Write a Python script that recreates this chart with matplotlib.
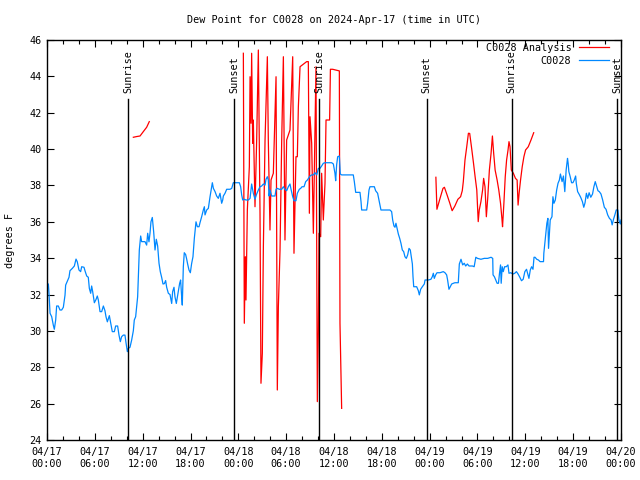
import numpy as np
import matplotlib
matplotlib.use("Agg")
import matplotlib.pyplot as plt
from matplotlib.ticker import MultipleLocator

plt.rcParams['font.family'] = ['DejaVu Sans Mono']
FS = 7.3

# hours since 2024-04-17 00:00 UTC
obs_t = [0.05, 0.17, 0.25, 0.38, 0.59, 0.79, 0.92, 1.09, 1.21, 1.42, 1.63, 1.84, 2.05, 2.26, 2.34, 2.55, 2.76, 2.88,
         3.18, 3.43, 3.64, 3.80, 4.01, 4.22, 4.35, 4.64, 4.77, 4.98, 5.18, 5.31, 5.48, 5.60, 5.73, 5.94, 6.15, 6.31,
         6.44, 6.65, 6.86, 7.07, 7.27, 7.40, 7.57, 7.82, 7.99, 8.19, 8.45, 8.61, 8.86, 9.03, 9.20, 9.36, 9.57, 9.78,
         9.91, 10.08, 10.20, 10.41, 10.62, 10.83, 10.95, 11.12, 11.25, 11.37, 11.46, 11.58, 11.75, 11.87, 12.08, 12.29,
         12.50, 12.63, 12.79, 12.92, 13.04, 13.21, 13.38, 13.55, 13.71, 13.88, 14.05, 14.21, 14.38, 14.55, 14.72, 14.88,
         15.01, 15.22, 15.43, 15.64, 15.76, 15.93, 16.05, 16.22, 16.35, 16.47, 16.64, 16.76, 16.89, 16.97, 17.10, 17.22,
         17.39, 17.52, 17.64, 17.81, 17.98, 18.14, 18.31, 18.48, 18.69, 18.86, 19.07, 19.19, 19.40, 19.61, 19.74, 19.82,
         20.03, 20.24, 20.45, 20.66, 20.74, 20.87, 21.08, 21.28, 21.49, 21.70, 21.91, 22.04, 22.12, 22.33, 22.54, 22.75,
         22.96, 23.17, 23.37, 23.58, 23.79, 24.13, 24.29, 24.42, 24.55, 24.75, 24.96, 25.26, 25.47, 25.67, 25.88, 26.09,
         26.30, 26.51, 26.72, 26.93, 27.14, 27.35, 27.47, 27.64, 27.76, 27.85, 27.97, 28.18, 28.39, 28.60, 28.73, 28.89,
         29.14, 29.44, 29.65, 29.85, 30.06, 30.27, 30.48, 30.61, 30.82, 30.98, 31.23, 31.40, 31.65, 31.82, 31.99, 32.24,
         32.45, 32.66, 32.99, 33.20, 33.41, 33.62, 33.83, 34.04, 34.24, 34.45, 34.66, 34.87, 35.29, 35.71, 35.92, 36.12,
         36.21, 36.33, 36.46, 36.67, 36.79, 36.96, 37.38, 37.80, 38.42, 38.55, 38.72, 39.26, 39.39, 39.47, 40.10, 40.22,
         40.39, 40.51, 41.06, 41.22, 41.47, 41.68, 41.89, 42.40, 43.02, 43.23, 43.36, 43.52, 43.65, 43.77, 43.94, 44.07,
         44.24, 44.40, 44.57, 44.74, 44.90, 45.07, 45.24, 45.41, 45.57, 45.66, 45.83, 45.91, 46.00, 46.37, 46.58, 46.70,
         46.87, 47.08, 47.33, 47.42, 47.83, 48.16, 48.33, 48.46, 48.58, 48.75, 48.92, 49.29, 49.71, 49.92, 50.13, 50.25,
         50.42, 50.59, 50.76, 50.97, 51.17, 51.59, 51.72, 51.93, 52.14, 52.34, 52.52, 52.73, 52.94, 53.37, 53.58, 53.79,
         54.00, 54.43, 54.85, 55.28, 55.70, 55.91, 55.95, 56.12, 56.29, 56.46, 56.63, 56.76, 56.89, 56.97, 57.10, 57.23,
         57.40, 57.61, 57.82, 57.95, 58.16, 58.46, 58.67, 58.88, 59.09, 59.31, 59.52, 59.73, 59.94, 60.15, 60.28, 60.45,
         60.62, 60.79, 60.96, 61.09, 61.22, 61.43, 61.64, 61.85, 62.06, 62.28, 62.32, 62.40, 62.57, 62.70, 62.83, 62.91,
         63.00, 63.12, 63.34, 63.46, 63.59, 63.76, 63.93, 64.10, 64.27, 64.40, 64.61, 64.78, 64.95, 65.12, 65.29, 65.37,
         65.46, 65.63, 65.80, 65.97, 66.14, 66.31, 66.39, 66.56, 66.73, 66.94, 67.16, 67.33, 67.49, 67.66, 67.83, 68.00,
         68.21, 68.43, 68.60, 68.77, 68.94, 69.11, 69.28, 69.49, 69.70, 69.91, 70.12, 70.33, 70.55, 70.76, 70.89, 71.06,
         71.23, 71.40, 71.61, 71.74, 71.91, 72.0]
obs_v = [32.6, 32.58, 32.07, 30.97, 30.78, 30.32, 30.09, 30.6, 31.37, 31.37, 31.15, 31.15, 31.3, 31.97, 32.52, 32.74, 32.95, 33.31,
         33.44, 33.57, 33.95, 33.8, 33.35, 33.26, 33.53, 33.5, 33.3, 33.02, 32.95, 32.34, 32.07, 32.47, 32.16, 31.55, 31.73, 31.92,
         31.7, 31.06, 31.06, 31.37, 31.11, 30.78, 30.5, 30.84, 30.45, 29.96, 29.96, 30.27, 30.27, 29.77, 29.41, 29.68, 29.77, 29.77,
         29.35, 28.86, 29.04, 29.1, 29.5, 30.01, 30.6, 30.78, 31.33, 31.88, 32.95, 34.45, 35.22, 34.91, 34.91, 34.91,
         34.72, 35.37, 34.9, 35.37, 36.0, 36.24, 35.45, 34.45, 35.04, 34.67, 33.72, 33.26, 32.95, 32.58, 32.6, 32.77,
         32.4, 32.07, 32.0, 31.51, 32.16, 32.4, 31.88, 31.51, 31.86, 32.16, 32.62, 32.8, 31.88, 31.42, 33.53, 34.3,
         34.2, 33.95, 33.68, 33.35, 33.2, 33.7, 34.08, 35.09, 36.0, 35.73, 35.73, 35.95, 36.28, 36.65, 36.83, 36.38,
         36.65, 36.74, 37.38, 37.93, 38.15, 37.84, 37.66, 37.42, 37.29, 37.57, 37.02, 37.2, 37.42, 37.57, 37.79, 37.79,
         37.79, 37.84, 38.15, 38.15, 38.15, 38.15, 37.93, 37.48, 37.2, 37.24, 37.2, 37.2, 37.29, 38.08, 37.57, 37.24,
         37.53, 37.75, 37.93, 37.97, 38.08, 38.02, 38.34, 38.48, 38.3, 37.42, 37.75, 37.42, 37.42, 37.42, 37.79, 37.84,
         37.79, 37.79, 37.93, 37.79, 37.71, 37.93, 38.08, 37.79, 37.38, 37.16, 37.16, 37.57, 37.79, 37.84, 37.93, 37.93,
         38.21, 38.3, 38.52, 38.58, 38.58, 38.7, 38.58, 38.94, 38.94, 39.07, 39.22, 39.25, 39.25, 39.25, 39.18, 38.67,
         38.26, 39.13, 39.58, 39.62, 38.63, 38.58, 38.58, 38.58, 38.58, 38.21, 37.62, 37.62, 37.11, 36.65, 36.65, 37.02,
         37.75, 37.93, 37.93, 37.71, 37.57, 37.11, 36.65, 36.65, 36.65, 36.56, 36.1, 35.77, 35.7, 35.92, 35.59, 35.33,
         35.09, 34.82, 34.45, 34.36, 34.08, 33.99, 34.18, 34.54, 34.45, 34.18, 33.68, 32.98, 32.43, 32.43, 32.21, 31.98,
         32.29, 32.43, 32.58, 32.8, 32.8, 32.84, 32.98, 33.17, 32.89, 33.08, 33.2, 33.2, 33.26, 33.2, 33.08, 32.8,
         32.29, 32.43, 32.58, 32.62, 32.65, 32.65, 33.68, 33.94, 33.63, 33.72, 33.57, 33.68, 33.57, 33.57, 33.53, 34.05,
         33.99, 33.94, 33.99, 33.99, 34.05, 33.99, 33.08, 32.98, 32.8, 32.62, 32.62, 33.17, 33.63, 32.62, 33.53, 33.26,
         33.53, 33.53, 33.63, 33.17, 33.2, 33.13, 33.17, 33.26, 33.13, 32.95, 32.76, 32.84, 33.26, 33.39, 33.17, 32.89,
         33.35, 33.53, 33.39, 34.05, 34.05, 33.94, 33.9, 33.81, 33.81, 33.81, 34.27, 34.63, 35.37, 35.92, 36.19, 34.54,
         35.18, 36.1, 36.28, 37.38, 37.02, 37.2, 37.75, 38.12, 38.3, 38.63, 38.21, 38.52, 37.66, 38.85, 39.49, 39.22,
         38.76, 38.48, 38.15, 38.15, 38.3, 38.52, 38.12, 37.66, 37.53, 37.35, 37.11, 36.8, 37.05, 37.57, 37.29, 37.6,
         37.35, 37.53, 37.93, 38.21, 37.97, 37.71, 37.66, 37.53, 37.2, 36.8, 36.69, 36.38, 36.19, 36.1, 35.83, 36.14,
         36.38, 36.65, 36.65, 36.1, 35.88, 36.1]

ana_t = [10.83, 11.25, 11.67, 12.08, 12.50, 12.83, np.nan,
         24.63, 24.75, 24.88, 24.96, 25.13, 25.38, 25.47, 25.59, 25.67, 25.80, 25.88, 26.09, 26.30, 26.51, 26.72, 26.84,
         27.01, 27.14, 27.35, 27.64, 27.76, 27.97, 28.10, 28.39, 28.73, 28.89, 29.02, 29.23, 29.44, 29.65, 29.85, 30.06,
         30.48, 30.82, 30.98, 31.23, 31.40, 31.53, 31.74, 32.57, 32.78, 32.91, 32.99, 33.20, 33.41, 33.74, 33.91, 34.04,
         34.12, 34.33, 34.45, 34.66, 34.87, 35.00, 35.45, 35.55, 35.83, 36.67, 36.75, 36.96, np.nan,
         48.78, 48.91, 49.34, 49.67, 49.85, 50.19, 50.53, 50.82, 51.16, 51.54, 51.88, 52.09, 52.22, 52.43, 52.65, 52.86,
         53.02, 53.24, 53.50, 53.70, 53.91, 54.09, 54.22, 54.43, 54.64, 54.77, 54.94, 55.11, 55.28, 55.49, 55.70, 55.87,
         56.03, 56.21, 56.46, 56.67, 56.89, 57.06, 57.14, 57.31, 57.48, 57.65, 57.83, 57.95, 58.08, 58.24, 58.50, 58.76,
         58.97, 59.09, 59.22, 59.40, 59.61, 59.82, 60.03, 60.37, 60.71, 61.05]
ana_v = [40.65, 40.69, 40.72, 40.96, 41.2, 41.51, np.nan,
         45.27, 30.42, 34.08, 31.7, 36.65, 39.03, 43.98, 41.42, 45.27, 40.32, 41.6, 36.83, 40.5, 45.45, 36.47, 27.12,
         28.77, 34.63, 40.5, 45.08, 40.5, 35.55, 38.3, 38.67, 43.98, 26.75, 31.33, 34.45, 40.5, 45.08, 35.0, 40.5,
         41.05, 45.08, 34.27, 39.58, 39.58, 42.33, 44.53, 44.81, 44.81, 36.47, 41.78, 40.32, 35.37, 44.53, 26.11, 30.05,
         35.37, 35.18, 38.67, 36.1, 38.12, 41.6, 41.6, 44.39, 44.39, 44.3, 30.42, 25.74, np.nan,
         38.45, 36.69, 37.35, 37.84, 37.9, 37.47, 37.02, 36.61, 36.87, 37.24, 37.38, 37.71, 38.21, 39.4, 40.13, 40.87,
         40.86, 40.13, 39.22, 38.48, 37.75, 36.01, 36.65, 37.11, 37.75, 38.39, 37.93, 36.28, 37.29, 38.85, 39.76, 40.72,
         39.76, 38.85, 38.3, 37.75, 37.02, 36.19, 35.73, 37.02, 38.48, 39.4, 39.95, 40.41, 40.13, 38.85, 38.67, 38.39,
         38.3, 36.92, 37.57, 38.3, 39.03, 39.58, 39.95, 40.13, 40.5, 40.9]

sun_t = [10.2, 23.5, 34.16, 47.63, 58.29, 71.54]
sun_lbl = ["Sunrise", "Sunset", "Sunrise", "Sunset", "Sunrise", "Sunset"]

xtick_t = [0, 6, 12, 18, 24, 30, 36, 42, 48, 54, 60, 66, 72]
xtick_lbl = ["04/17\n00:00", "04/17\n06:00", "04/17\n12:00", "04/17\n18:00",
             "04/18\n00:00", "04/18\n06:00", "04/18\n12:00", "04/18\n18:00",
             "04/19\n00:00", "04/19\n06:00", "04/19\n12:00", "04/19\n18:00",
             "04/20\n00:00"]

fig = plt.figure(figsize=(6.4, 4.8), dpi=100)
ax = fig.add_axes([47/640, 40/480, 574/640, 400/480])

ax.plot(ana_t, ana_v, color='#ff0000', lw=0.9, label='C0028 Analysis')
ax.plot(obs_t, obs_v, color='#0088ff', lw=0.9, label='C0028')

for t, lbl in zip(sun_t, sun_lbl):
    ax.plot([t, t], [0, 0.852], color='black', lw=1.0, transform=ax.get_xaxis_transform())
    ax.text(t, 0.868, lbl, rotation=90, ha='center', va='bottom', fontsize=FS,
            transform=ax.get_xaxis_transform())

ax.set_xlim(0, 72)
ax.set_ylim(24, 46)
ax.set_xticks(xtick_t)
ax.set_xticklabels(xtick_lbl, fontsize=FS)
ax.xaxis.set_minor_locator(MultipleLocator(2))
ax.set_yticks(np.arange(24, 47, 2))
ax.tick_params(axis='y', labelsize=FS)
ax.tick_params(which='both', direction='in', top=True, right=True, width=0.8)
ax.tick_params(which='major', length=5, pad=4)
ax.tick_params(which='minor', length=3)
ax.tick_params(axis='x', which='major', pad=5)
for s in ax.spines.values():
    s.set_linewidth(1.0)

ax.set_ylabel('degrees F', fontsize=FS, labelpad=10)
ax.set_title('Dew Point for C0028 on 2024-Apr-17 (time in UTC)', fontsize=FS, pad=12)

leg = ax.legend(loc='upper right', bbox_to_anchor=(1 - 12/574, 1 - 3/400), frameon=False,
                markerfirst=False, fontsize=FS, handlelength=3.0, handletextpad=0.7,
                labelspacing=0.25, borderpad=0, borderaxespad=0)

fig.savefig('out.png', dpi=100)
